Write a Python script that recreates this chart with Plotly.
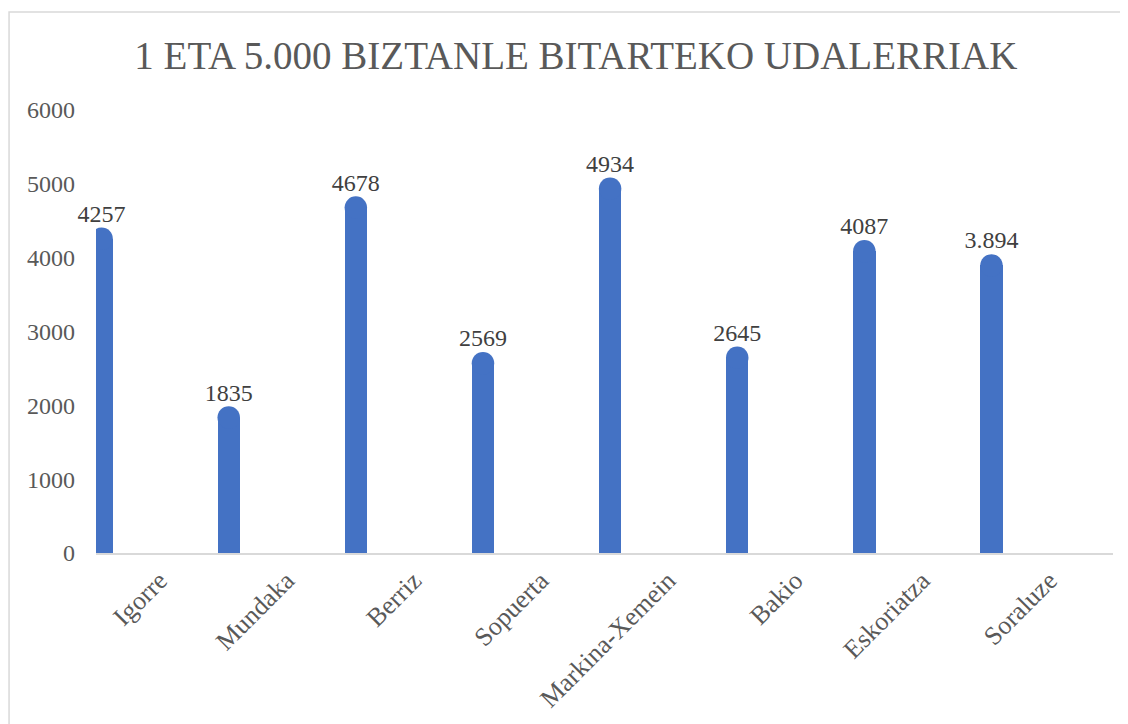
import numpy as np
import plotly.graph_objects as go

# data
towns = ["Igorre", "Mundaka", "Berriz", "Sopuerta", "Markina-Xemein",
         "Bakio", "Eskoriatza", "Soraluze"]
population = [4257, 1835, 4678, 2569, 4934, 2645, 4087, 3894]
labels = ["4257", "1835", "4678", "2569", "4934", "2645", "4087", "3.894"]
y_ticks = [0, 1000, 2000, 3000, 4000, 5000, 6000]

blue = "#4472C4"
grey = "#595959"
font_family = "Liberation Serif"

pos = np.arange(len(towns))
bar_w = 0.176
bar_shift = -0.456  # bar sits left of the category centre (empty second series)
cap = 22.5          # px, diameter of the rounded top

fig = go.Figure()

# bar body
fig.add_trace(go.Bar(
    x=pos, y=population,
    width=bar_w, offset=bar_shift - bar_w / 2,
    marker=dict(color=blue, line=dict(width=0)),
    hoverinfo="skip", showlegend=False,
))

# rounded cap (clipped to the plot area like the first bar)
fig.add_trace(go.Scatter(
    x=pos + bar_shift, y=population,
    mode="markers",
    marker=dict(color=blue, size=cap, line=dict(width=0)),
    cliponaxis=True, showlegend=False, hoverinfo="skip",
))

# value labels (not clipped)
fig.add_trace(go.Scatter(
    x=pos + bar_shift, y=population,
    mode="markers+text",
    marker=dict(color="rgba(0,0,0,0)", size=16),
    text=labels, textposition="top center",
    textfont=dict(family=font_family, size=24, color="#404040"),
    cliponaxis=False, showlegend=False,
))

fig.update_layout(
    width=1120, height=716,
    margin=dict(l=88, r=15, t=102, b=171),
    paper_bgcolor="white", plot_bgcolor="white",
    font=dict(family=font_family, color=grey),
    title=dict(
        text="1 ETA 5.000 BIZTANLE BITARTEKO UDALERRIAK",
        font=dict(family=font_family, size=39, color=grey),
        x=0.507, xref="container", xanchor="center",
        y=0.934, yref="container", yanchor="middle",
    ),
    bargap=0,
    shapes=[dict(
        type="rect", xref="paper", yref="paper",
        x0=-0.0855, x1=1.05, y0=-0.5, y1=1.2214,
        line=dict(color="#d9d9d9", width=1.5), fillcolor="rgba(0,0,0,0)",
        layer="below",
    )],
)

fig.update_xaxes(
    range=[-0.5, len(towns) - 0.5],
    tickvals=pos, ticktext=towns, tickangle=-45,
    tickfont=dict(family=font_family, size=26, color=grey),
    showgrid=False, zeroline=False,
    showline=True, linecolor="#d9d9d9", linewidth=2,
    ticks="", fixedrange=True, automargin=False,
)
fig.update_yaxes(
    range=[0, 6000], tickvals=y_ticks,
    tickfont=dict(family=font_family, size=24, color=grey),
    showgrid=False, zeroline=False, showline=False,
    ticks="", ticklabelstandoff=20, fixedrange=True, automargin=False,
)

fig.write_html("out.html")
